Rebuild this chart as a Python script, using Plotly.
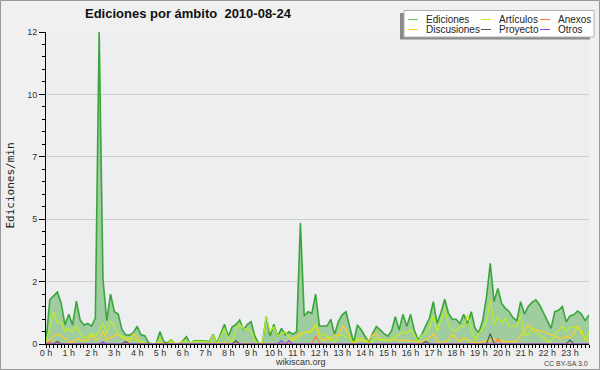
import plotly.graph_objects as go

# ---------------- data (10-minute slots, 0:00 .. 23:50) ----------------
slots = list(range(144))
hour_labels = [f"{h} h" for h in range(24)]
y_tick_values = [0, 2.4, 4.8, 7.2, 9.6, 12]
y_tick_labels = ["0", "2", "5", "7", "10", "12"]

ediciones = [
    0.1, 1.7, 1.85, 2.0, 1.56, 0.73, 1.14, 0.73, 1.65, 0.92,
    0.73, 0.79, 0.69, 1.0, 12.0, 2.5, 0.9, 1.92, 1.24, 1.15,
    0.56, 0.35, 0.34, 0.44, 0.68, 0.35, 0.32, 0.05, 0.0, 0.0,
    0.48, 0.09, 0.04, 0.16, 0.0, 0.0, 0.12, 0.28, 0.0, 0.12,
    0.12, 0.12, 0.12, 0.08, 0.37, 0.02, 0.4, 0.76, 0.3, 0.65,
    0.75, 0.92, 0.55, 0.75, 0.86, 0.3, 0.02, 0.03, 1.05, 0.3,
    0.76, 0.29, 0.6, 0.35, 0.47, 0.38, 0.47, 4.65, 1.08, 1.24,
    1.18, 1.92, 0.69, 0.69, 0.69, 0.95, 0.37, 0.86, 1.12, 1.24,
    0.67, 0.05, 0.73, 0.55, 0.3, 0.09, 0.4, 0.67, 0.54, 0.4,
    0.3, 0.5, 1.05, 0.54, 1.14, 0.67, 1.14, 0.54, 0.15, 0.38,
    0.7, 1.0, 1.63, 0.79, 1.2, 1.72, 1.18, 0.95, 0.95, 0.79,
    1.14, 0.79, 1.24, 0.6, 0.44, 0.9, 1.8, 3.1, 1.63, 2.14,
    1.56, 1.37, 1.24, 1.0, 0.9, 1.63, 1.15, 1.44, 1.6, 1.7,
    1.5, 1.2, 0.85, 0.6, 1.25, 1.3, 1.44, 0.85, 1.08, 1.12,
    1.27, 1.15, 0.9, 1.12,
]

articulos = [
    0.1, 0.6, 1.24, 0.8, 0.86, 0.47, 0.6, 0.47, 0.69, 0.4,
    0.21, 0.27, 0.4, 0.3, 0.5, 0.8, 0.4, 0.88, 0.67, 0.35,
    0.3, 0.22, 0.22, 0.2, 0.15, 0.09, 0.03, 0.0, 0.0, 0.0,
    0.22, 0.0, 0.0, 0.15, 0.0, 0.05, 0.1, 0.15, 0.0, 0.1,
    0.1, 0.1, 0.1, 0.05, 0.35, 0.0, 0.3, 0.6, 0.22, 0.05,
    0.6, 0.76, 0.6, 0.55, 0.54, 0.15, 0.0, 0.02, 1.05, 0.47,
    0.67, 0.3, 0.4, 0.47, 0.28, 0.15, 0.2, 0.35, 0.47, 0.47,
    0.47, 0.78, 0.4, 0.35, 0.3, 0.22, 0.03, 0.3, 0.35, 0.25,
    0.25, 0.03, 0.22, 0.15, 0.12, 0.05, 0.1, 0.22, 0.15, 0.15,
    0.15, 0.15, 0.3, 0.35, 0.48, 0.4, 0.54, 0.35, 0.09, 0.35,
    0.41, 0.6, 1.12, 0.48, 0.9, 1.37, 0.73, 0.54, 0.5, 0.69,
    0.67, 1.12, 0.6, 0.15, 0.4, 0.6, 0.86, 1.72, 0.73, 1.05,
    0.8, 0.99, 0.69, 0.69, 0.69, 1.12, 0.35, 0.35, 0.64, 0.44,
    0.35, 0.26, 0.09, 0.09, 0.35, 0.54, 0.69, 0.48, 0.64, 0.64,
    0.6, 0.54, 0.15, 0.48,
]

discusiones = [
    0.0, 0.15, 0.3, 0.38, 0.32, 0.2, 0.05, 0.08, 0.2, 0.15,
    0.12, 0.15, 0.35, 0.15, 0.2, 0.5, 0.15, 0.25, 0.33, 0.38,
    0.25, 0.2, 0.08, 0.4, 0.25, 0.05, 0.0, 0.0, 0.0, 0.0,
    0.08, 0.0, 0.0, 0.05, 0.0, 0.0, 0.0, 0.0, 0.0, 0.0,
    0.0, 0.0, 0.0, 0.0, 0.05, 0.0, 0.0, 0.08, 0.0, 0.0,
    0.0, 0.0, 0.0, 0.05, 0.0, 0.0, 0.0, 0.08, 0.0, 0.0,
    0.0, 0.0, 0.0, 0.05, 0.1, 0.22, 0.28, 0.4, 0.45, 0.45,
    0.55, 0.7, 0.28, 0.12, 0.22, 0.15, 0.35, 0.3, 0.69, 0.56,
    0.3, 0.0, 0.1, 0.22, 0.12, 0.15, 0.35, 0.41, 0.18, 0.15,
    0.15, 0.15, 0.22, 0.1, 0.15, 0.15, 0.1, 0.1, 0.05, 0.1,
    0.15, 0.22, 0.41, 0.15, 0.0, 0.1, 0.15, 0.38, 0.2, 0.09,
    0.26, 0.15, 0.09, 0.05, 0.05, 0.08, 0.12, 0.15, 0.2, 0.15,
    0.13, 0.1, 0.08, 0.08, 0.12, 0.31, 0.5, 0.72, 0.6, 0.54,
    0.5, 0.48, 0.41, 0.35, 0.31, 0.22, 0.22, 0.31, 0.25, 0.4,
    0.69, 0.41, 0.2, 0.09,
]

anexos = [0.0] * 144
for i, v in [(1, 0.1), (71, 0.3), (72, 0.05), (119, 0.2)]:
    anexos[i] = v

proyecto = [0.0] * 144
for i, v in [(3, 0.1), (21, 0.1), (50, 0.12), (100, 0.1), (117, 0.4), (138, 0.15)]:
    proyecto[i] = v

otros = [0.0] * 144
for i, v in [(15, 0.08), (62, 0.12), (64, 0.12)]:
    otros[i] = v

# ---------------- styling ----------------
W, H = 600, 370
ML, MR, MT, MB = 46, 11, 32, 26
PW, PH = W - ML - MR, H - MT - MB

C_EDIT_LINE = "#3aa63a"
C_EDIT_FILL = "#a0cda0"
C_EDIT_LEG = "#66cc66"
C_ART = "#bbee22"
C_ANX = "#ff7a3c"
C_DIS = "#ffcc22"
C_PRO = "#555555"
C_OTR = "#9944ff"


def fx(p):
    return (p - ML) / PW


def fy(p):
    return (MT + PH - p) / PH


fig = go.Figure()
fig.add_trace(go.Scatter(x=slots, y=ediciones, mode="lines", fill="tozeroy",
                         fillcolor=C_EDIT_FILL, line=dict(color=C_EDIT_LINE, width=1.6),
                         name="Ediciones", showlegend=False, hoverinfo="skip"))
for name, vals, col in [("Discusiones", discusiones, C_DIS),
                        ("Artículos", articulos, C_ART),
                        ("Anexos", anexos, C_ANX),
                        ("Proyecto", proyecto, C_PRO),
                        ("Otros", otros, C_OTR)]:
    fig.add_trace(go.Scatter(x=slots, y=vals, mode="lines", name=name,
                             line=dict(color=col, width=1.2), showlegend=False,
                             hoverinfo="skip"))

tick_font = dict(family="Liberation Sans", size=9, color="#333333")

fig.update_xaxes(range=[0, 143], showgrid=False, zeroline=False,
                 showline=True, linecolor="black", linewidth=1,
                 tickmode="array", tickvals=[6 * h for h in range(24)], ticktext=hour_labels,
                 ticks="outside", ticklen=3, tickcolor="black", tickwidth=1,
                 tickfont=tick_font, ticklabelstandoff=-3,
                 minor=dict(tickmode="linear", tick0=0, dtick=1, ticks="outside",
                            ticklen=3, tickcolor="black", tickwidth=1, showgrid=False))
fig.update_yaxes(range=[0, 12], showgrid=True, gridcolor="#cfcfcf", gridwidth=1,
                 zeroline=False, showline=True, linecolor="black", linewidth=1,
                 tickmode="array", tickvals=y_tick_values, ticktext=y_tick_labels,
                 ticks="outside", ticklen=6, tickcolor="black", tickwidth=1,
                 tickfont=tick_font,
                 minor=dict(tickmode="linear", tick0=0, dtick=0.48, ticks="outside",
                            ticklen=3, tickcolor="black", tickwidth=1, showgrid=False))

shapes = []
# outer frame
shapes.append(dict(type="rect", xref="paper", yref="paper",
                   x0=fx(0.5), x1=fx(W - 0.5), y0=fy(H - 0.5), y1=fy(0.5),
                   line=dict(color="#999999", width=1), fillcolor="rgba(0,0,0,0)", layer="above"))
# legend shadow + box
shapes.append(dict(type="rect", xref="paper", yref="paper",
                   x0=fx(400), x1=fx(590), y0=fy(39.5), y1=fy(13),
                   line=dict(width=0), fillcolor="#8a8a8a", layer="above"))
shapes.append(dict(type="rect", xref="paper", yref="paper",
                   x0=fx(404), x1=fx(594), y0=fy(37), y1=fy(10.5),
                   line=dict(color="#b0b0b0", width=1), fillcolor="white", layer="above"))

annotations = []
legend_items = [
    ("Ediciones", C_EDIT_LEG, 408, 424, 19.5),
    ("Artículos", C_ART, 481, 497, 19.5),
    ("Anexos", C_ANX, 540, 556, 19.5),
    ("Discusiones", C_DIS, 408, 424, 29.5),
    ("Proyecto", C_PRO, 481, 497, 29.5),
    ("Otros", C_OTR, 540, 556, 29.5),
]
for name, col, sx, tx, ry in legend_items:
    shapes.append(dict(type="line", xref="paper", yref="paper",
                       x0=fx(sx), x1=fx(sx + 10), y0=fy(ry), y1=fy(ry),
                       line=dict(color=col, width=1), layer="above"))
    annotations.append(dict(text=name, xref="paper", yref="paper", x=fx(tx), y=fy(ry),
                            xanchor="left", yanchor="middle", showarrow=False,
                            font=dict(family="Liberation Sans", size=10, color="#222222")))

annotations.append(dict(text="<b>Ediciones por ámbito\u00a0 2010-08-24</b>", xref="paper", yref="paper",
                        x=fx(188.5), y=fy(13.5), xanchor="center", yanchor="middle",
                        showarrow=False, font=dict(family="Liberation Sans", size=13, color="#111111")))
annotations.append(dict(text="Ediciones/min", xref="paper", yref="paper",
                        x=fx(9.5), y=fy(186), xanchor="center", yanchor="middle", textangle=-90,
                        showarrow=False, font=dict(family="DejaVu Sans Mono", size=11, color="#222222")))
annotations.append(dict(text="wikiscan.org", xref="paper", yref="paper",
                        x=fx(300), y=fy(362), xanchor="center", yanchor="middle",
                        showarrow=False, font=dict(family="Liberation Sans", size=9, color="#333333")))
annotations.append(dict(text="CC BY-SA 3.0", xref="paper", yref="paper",
                        x=fx(590), y=fy(363), xanchor="right", yanchor="middle",
                        showarrow=False, font=dict(family="Liberation Sans", size=7, color="#444444")))

fig.update_layout(width=W, height=H, margin=dict(l=ML, r=MR, t=MT, b=MB, pad=0),
                  paper_bgcolor="#f0f0f0", plot_bgcolor="#eceef0",
                  showlegend=False, shapes=shapes, annotations=annotations)

fig.write_html("out.html", config={"displayModeBar": False},
               post_script="document.body.style.margin='0';document.body.style.padding='0';")
